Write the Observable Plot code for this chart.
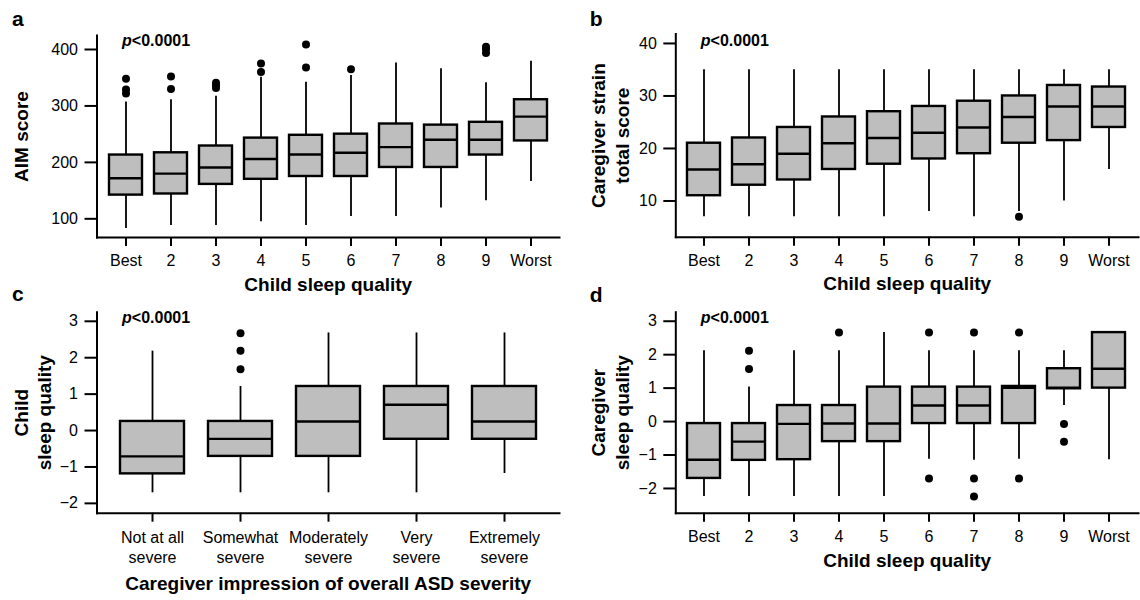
<!DOCTYPE html>
<html><head><meta charset="utf-8">
<script src="https://cdn.jsdelivr.net/npm/d3@7"></script>
<script src="https://cdn.jsdelivr.net/npm/@observablehq/plot@0.6"></script>
<style>
body{margin:0;background:#fff;}
#fig{position:relative;width:1140px;height:600px;background:#fff;font-family:"Liberation Sans",Arial,Helvetica,sans-serif;}
#fig svg{position:absolute;overflow:visible;}
</style></head><body><div id="fig"></div>
<script>
// ---------- categories ----------
const sleepCats = ["Best","2","3","4","5","6","7","8","9","Worst"];
const severityCats = ["Not at all\nsevere","Somewhat\nsevere","Moderately\nsevere","Very\nsevere","Extremely\nsevere"];

// ---------- panel a: AIM score by child sleep quality ----------
const aLow  = [83, 88, 88, 95, 88, 104, 104, 119, 132, 166];
const aQ1   = [142, 144, 161, 170, 175, 175, 191, 191, 213, 238];
const aMed  = [172, 180, 191, 206, 214, 217, 227, 240, 240, 281];
const aQ3   = [213, 217, 229, 243, 248, 250, 268, 266, 271, 311];
const aHigh = [307, 311, 317, 351, 342, 354, 376, 366, 341, 379];
const aOutCat = ["Best","Best","Best","2","2","3","3","3","4","4","5","5","6","9","9","9"];
const aOutVal = [348, 329, 322, 352, 330, 341, 336, 332, 375, 360, 409, 368, 365, 405, 401, 394];
const aTicks = [100, 200, 300, 400];

// ---------- panel b: caregiver strain by child sleep quality ----------
const bLow  = [7, 7, 7, 7, 7, 8, 7, 8, 10, 16];
const bQ1   = [11, 13, 14, 16, 17, 18, 19, 21, 21.5, 24];
const bMed  = [16, 17, 19, 21, 22, 23, 24, 26, 28, 28];
const bQ3   = [21, 22, 24, 26, 27, 28, 29, 30, 32, 31.7];
const bHigh = [35, 35, 35, 35, 35, 35, 35, 35, 35, 35];
const bOutCat = ["8"];
const bOutVal = [7];
const bTicks = [10, 20, 30, 40];

// ---------- panel c: child sleep quality by ASD severity ----------
const cLow  = [-1.71, -1.71, -1.71, -1.71, -1.18];
const cQ1   = [-1.19, -0.71, -0.71, -0.24, -0.24];
const cMed  = [-0.71, -0.23, 0.25, 0.71, 0.25];
const cQ3   = [0.25, 0.25, 1.21, 1.21, 1.21];
const cHigh = [2.18, 1.21, 2.68, 2.68, 2.68];
const cOutCat = ["Somewhat\nsevere","Somewhat\nsevere","Somewhat\nsevere"];
const cOutVal = [2.67, 2.19, 1.68];
const cTicks = [-2, -1, 0, 1, 2, 3];

// ---------- panel d: caregiver sleep quality by child sleep quality ----------
const dLow  = [-2.24, -2.24, -2.24, -2.24, -2.24, -1.13, -1.16, -1.13, 0.48, -1.14];
const dQ1   = [-1.70, -1.16, -1.14, -0.60, -0.60, -0.06, -0.06, -0.06, 0.98, 1.00];
const dMed  = [-1.14, -0.60, -0.07, -0.06, -0.06, 0.48, 0.48, 1.01, 1.01, 1.58];
const dQ3   = [-0.06, -0.06, 0.48, 0.48, 1.03, 1.03, 1.03, 1.05, 1.58, 2.66];
const dHigh = [2.12, 1.03, 2.12, 2.12, 2.66, 2.12, 2.12, 2.12, 2.12, 2.66];
const dOutCat = ["2","2","4","6","6","7","7","7","8","8","9","9"];
const dOutVal = [2.12, 1.57, 2.66, 2.66, -1.70, 2.66, -1.70, -2.24, 2.66, -1.70, -0.07, -0.60];
const dTicks = [-2, -1, 0, 1, 2, 3];

const FONT = '"Liberation Sans", Arial, Helvetica, sans-serif';
const intFmt = d3.format("d");

function panel(o) {
  const rows = o.cats.map((c, i) => ({cat: c, low: o.low[i], q1: o.q1[i], med: o.med[i], q3: o.q3[i], high: o.high[i]}));
  const outs = o.outCat.map((c, i) => ({cat: c, val: o.outVal[i]}));
  const multi = o.multiLabels;
  const marks = [
    Plot.ruleX(rows, {x: "cat", y1: "low", y2: "high", stroke: "black", strokeWidth: 1.8}),
    Plot.barY(rows, {x: "cat", y1: "q1", y2: "q3", fill: "#bebebe", stroke: "black", strokeWidth: 2.4}),
    Plot.tickY(rows, {x: "cat", y: "med", stroke: "black", strokeWidth: 2.4}),
    Plot.dot(outs, {x: "cat", y: "val", r: 4, fill: "black", stroke: "none"}),
    Plot.frame({anchor: "left", stroke: "black", strokeWidth: 2, strokeLinecap: "square"}),
    Plot.frame({anchor: "bottom", stroke: "black", strokeWidth: 2, strokeLinecap: "square"}),
    Plot.axisY({ticks: o.ticks, tickFormat: intFmt, tickSize: 12, tickPadding: 7, fontSize: 16, strokeWidth: 2, label: null}),
    Plot.axisX({tickSize: 9, tickPadding: 8.6, fontSize: 16, strokeWidth: 2, label: null,
      tickFormat: multi ? () => "" : d => d}),
    // panel letter
    Plot.text([o.letter], {frameAnchor: "top-left", text: d => d, textAnchor: "start", lineAnchor: "bottom",
      dx: o.letterDx, dy: o.letterDy, fontSize: 21, fontWeight: "bold"}),
    // p-value
    Plot.text(["p"], {frameAnchor: "top-left", text: d => d, textAnchor: "start", lineAnchor: "bottom",
      dx: 25, dy: o.pDy, fontSize: 16, fontWeight: "bold", fontStyle: "italic"}),
    Plot.text(["<0.0001"], {frameAnchor: "top-left", text: d => d, textAnchor: "start", lineAnchor: "bottom",
      dx: 34.8, dy: o.pDy, fontSize: 16, fontWeight: "bold"}),
    // x title
    Plot.text([o.xTitle], {frameAnchor: "bottom", text: d => d, textAnchor: "middle", lineAnchor: "bottom",
      dy: o.xTitleDy, fontSize: 19, fontWeight: "bold"})
  ];
  o.yTitle.forEach((t, i) => {
    marks.push(Plot.text([t], {frameAnchor: "left", text: d => d, textAnchor: "middle", lineAnchor: "bottom",
      rotate: -90, dx: o.yTitleDx[i], fontSize: 19, fontWeight: "bold"}));
  });
  if (multi) {
    marks.push(Plot.text(o.cats, {x: d => d, frameAnchor: "bottom", text: d => d, textAnchor: "middle",
      lineAnchor: "top", lineHeight: 1.25, dy: 15.8, fontSize: 16}));
  }
  const svg = Plot.plot({
    width: 570, height: 300,
    marginLeft: o.ml, marginRight: o.mr, marginTop: o.mt, marginBottom: o.mb,
    style: {background: "transparent", overflow: "visible", fontFamily: FONT, color: "black"},
    x: {type: "band", domain: o.cats, paddingInner: o.pi, paddingOuter: o.po, axis: null},
    y: {domain: o.yDomain, axis: null},
    marks
  });
  svg.style.left = o.left + "px";
  svg.style.top = o.top + "px";
  document.getElementById("fig").appendChild(svg);
}

panel({letter: "a", left: 0, top: 0, cats: sleepCats, low: aLow, q1: aQ1, med: aMed, q3: aQ3, high: aHigh,
  outCat: aOutCat, outVal: aOutVal, ticks: aTicks, yDomain: [66.9, 424.8],
  ml: 96.5, mr: 11, mt: 35, mb: 63, pi: 0.256, po: 0.19,
  letterDx: -85, letterDy: -10, pDy: 10, xTitle: "Child sleep quality", xTitleDy: 53,
  yTitle: ["AIM score"], yTitleDx: [-69]});

panel({letter: "b", left: 570, top: 0, cats: sleepCats, low: bLow, q1: bQ1, med: bMed, q3: bQ3, high: bHigh,
  outCat: bOutCat, outVal: bOutVal, ticks: bTicks, yDomain: [3.1, 41.8],
  ml: 105.3, mr: 2, mt: 33.5, mb: 63.3, pi: 0.256, po: 0.19,
  letterDx: -86, letterDy: -8.5, pDy: 11.5, xTitle: "Child sleep quality", xTitleDy: 53,
  yTitle: ["Caregiver strain", "total score"], yTitleDx: [-70.8, -47.3]});

panel({letter: "c", left: 0, top: 300, cats: severityCats, low: cLow, q1: cQ1, med: cMed, q3: cQ3, high: cHigh,
  outCat: cOutCat, outVal: cOutVal, ticks: cTicks, yDomain: [-2.27, 3.25], multiLabels: true,
  ml: 96.5, mr: 11, mt: 11.7, mb: 87.3, pi: 0.278, po: 0.24,
  letterDx: -85, letterDy: -11.7, pDy: 10.3, xTitle: "Caregiver impression of overall ASD severity", xTitleDy: 77,
  yTitle: ["Child", "sleep quality"], yTitleDx: [-69.5, -46.2]});

panel({letter: "d", left: 570, top: 300, cats: sleepCats, low: dLow, q1: dQ1, med: dMed, q3: dQ3, high: dHigh,
  outCat: dOutCat, outVal: dOutVal, ticks: dTicks, yDomain: [-2.74, 3.27],
  ml: 105.3, mr: 2, mt: 11.7, mb: 87.3, pi: 0.256, po: 0.19,
  letterDx: -86, letterDy: -10.7, pDy: 10.3, xTitle: "Child sleep quality", xTitleDy: 54,
  yTitle: ["Caregiver", "sleep quality"], yTitleDx: [-70.8, -47.3]});
</script>
</body></html>
